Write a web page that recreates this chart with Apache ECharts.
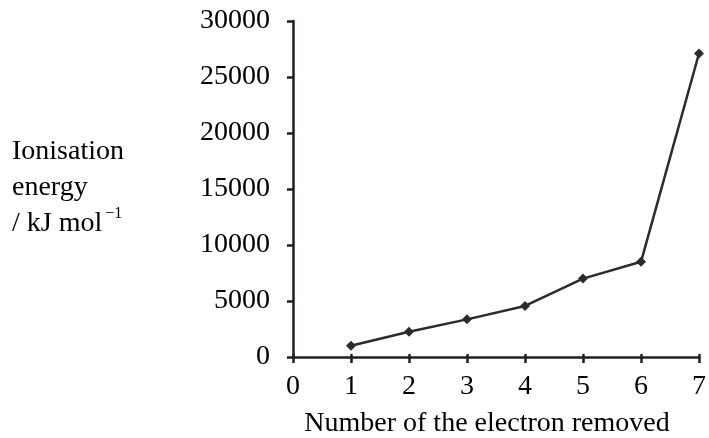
<!DOCTYPE html>
<html>
<head>
<meta charset="utf-8">
<script src="https://cdn.jsdelivr.net/npm/echarts@6/dist/echarts.min.js"></script>
<style>
html,body{margin:0;padding:0;background:#fff;}
#c{width:709px;height:438px;}
</style>
</head>
<body>
<div id="c"></div>
<script>
var electronNumbers = [1, 2, 3, 4, 5, 6, 7];
var ionisationEnergy = [1000, 2250, 3360, 4560, 7000, 8500, 27100];
var xTicks = [0, 1, 2, 3, 4, 5, 6, 7];
var yTicks = [0, 5000, 10000, 15000, 20000, 25000, 30000];

var FONT = '"Liberation Serif", "Times New Roman", serif';
var INK = '#231f20';
var chart = echarts.init(document.getElementById('c'));
var pts = electronNumbers.map(function (n, i) { return [n, ionisationEnergy[i]]; });

chart.setOption({
  animation: false,
  backgroundColor: '#fff',
  grid: { left: 293, right: 5, top: 21, bottom: 81, containLabel: false },
  xAxis: [{
    type: 'value', min: xTicks[0], max: xTicks[xTicks.length - 1], interval: 1,
    axisLine: { show: true, onZero: false, lineStyle: { color: INK, width: 2.5 } },
    axisTick: { show: true, length: 6, lineStyle: { color: INK, width: 2.5 } },
    axisLabel: { color: '#000', fontFamily: FONT, fontSize: 28, margin: 16, formatter: function (v) { return String(v); } },
    splitLine: { show: false }
  }, {
    type: 'value', min: xTicks[0], max: xTicks[xTicks.length - 1], interval: 1,
    position: 'bottom',
    axisLine: { show: false },
    axisTick: { show: true, inside: true, length: 3, lineStyle: { color: INK, width: 2.5 } },
    axisLabel: { show: false },
    splitLine: { show: false }
  }],
  yAxis: {
    type: 'value', min: yTicks[0], max: yTicks[yTicks.length - 1], interval: 5000,
    axisLine: { show: true, lineStyle: { color: INK, width: 2.5 } },
    axisTick: { show: true, length: 6, lineStyle: { color: INK, width: 2.5 } },
    axisLabel: { color: '#000', fontFamily: FONT, fontSize: 28, margin: 23, formatter: function (v) { return String(v); } },
    splitLine: { show: false }
  },
  graphic: [{
    type: 'text', left: 12, top: 134,
    style: {
      text: 'Ionisation\nenergy\n/ kJ mol{sup|\u22121}',
      fontFamily: FONT, fontSize: 28, lineHeight: 36, fill: '#000',
      rich: {
        sup: { fontFamily: FONT, fontSize: 16, fill: '#000', verticalAlign: 'top', lineHeight: 36, padding: [0, 0, 10, 3] }
      }
    }
  }, {
    type: 'text', x: 487, y: 424,
    style: {
      text: 'Number of the electron removed',
      fontFamily: FONT, fontSize: 28, fill: '#000',
      align: 'center', verticalAlign: 'middle'
    }
  }],
  series: [{
    type: 'line',
    data: pts,
    symbol: 'diamond',
    symbolSize: 10,
    lineStyle: { color: '#2b2b2b', width: 2.5 },
    itemStyle: { color: '#2b2b2b' },
    clip: false
  }]
});
</script>
</body>
</html>
